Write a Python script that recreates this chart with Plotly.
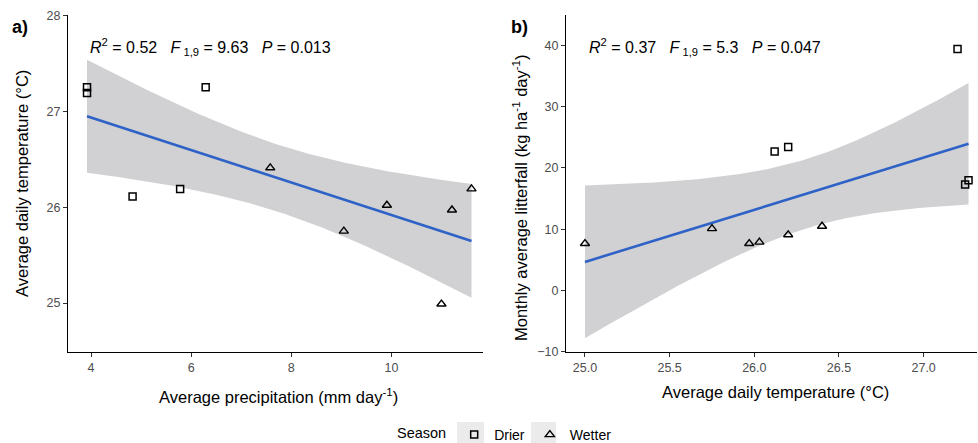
import numpy as np
import plotly.graph_objects as go

# ---------------- data ----------------
# Panel a: precipitation vs temperature
a_drier_precip = [3.92, 3.92, 6.29, 5.78, 4.83]
a_drier_temp = [27.25, 27.19, 27.25, 26.19, 26.11]
a_wetter_precip = [7.58, 9.05, 9.91, 11.00, 11.21, 11.60]
a_wetter_temp = [26.41, 25.75, 26.02, 24.99, 25.97, 26.19]

# Panel b: temperature vs litterfall
b_drier_temp = [27.20, 27.245, 27.265, 26.12, 26.20]
b_drier_litter = [39.4, 17.3, 18.0, 22.7, 23.4]
b_wetter_temp = [25.00, 25.75, 25.97, 26.03, 26.20, 26.40]
b_wetter_litter = [7.67, 10.1, 7.67, 7.9, 9.1, 10.5]

a_xticks = [4, 6, 8, 10]
a_yticks = [25, 26, 27, 28]
b_xticks = [25.0, 25.5, 26.0, 26.5, 27.0]
b_yticks = [-10, 0, 10, 20, 30, 40]

season_names = ["Drier", "Wetter"]
stats_a = "<i>R</i><sup>2</sup> = 0.52   <i>F</i><sub> 1,9</sub> = 9.63   <i>P</i> = 0.013"
stats_b = "<i>R</i><sup>2</sup> = 0.37   <i>F</i><sub> 1,9</sub> = 5.3   <i>P</i> = 0.047"

T975 = 2.262157  # t quantile, df = 9


def lm_band(x, y, n=100):
    x = np.asarray(x, float)
    y = np.asarray(y, float)
    b1, b0 = np.polyfit(x, y, 1)
    xs = np.linspace(x.min(), x.max(), n)
    resid = y - (b0 + b1 * x)
    s = np.sqrt(np.sum(resid ** 2) / (len(x) - 2))
    sxx = np.sum((x - x.mean()) ** 2)
    se = s * np.sqrt(1 / len(x) + (xs - x.mean()) ** 2 / sxx)
    fit = b0 + b1 * xs
    return xs, fit, fit - T975 * se, fit + T975 * se


FONT = "Arial, Liberation Sans, sans-serif"
BAND = "#D1D1D3"
LINE = "#2F62C6"

fig = go.Figure()


def add_panel(xd, yd, xw, yw, xa, ya, show):
    xs, fit, lo, hi = lm_band(list(xd) + list(xw), list(yd) + list(yw))
    fig.add_trace(go.Scatter(
        x=np.concatenate([xs, xs[::-1]]), y=np.concatenate([hi, lo[::-1]]),
        fill="toself", fillcolor=BAND, line=dict(width=0), mode="lines",
        hoverinfo="skip", showlegend=False, xaxis=xa, yaxis=ya))
    fig.add_trace(go.Scatter(
        x=xs, y=fit, mode="lines", line=dict(color=LINE, width=2.6),
        showlegend=False, xaxis=xa, yaxis=ya))
    fig.add_trace(go.Scatter(
        x=xd, y=yd, mode="markers", name=season_names[0], legendgroup="d",
        marker=dict(symbol="square-open", size=7, color="black",
                    line=dict(width=1.5, color="black")),
        showlegend=show, xaxis=xa, yaxis=ya))
    fig.add_trace(go.Scatter(
        x=xw, y=yw, mode="markers", name=season_names[1], legendgroup="w",
        marker=dict(symbol="triangle-up-open", size=8, color="black",
                    line=dict(width=1.4, color="black")),
        showlegend=show, xaxis=xa, yaxis=ya))


add_panel(a_drier_precip, a_drier_temp, a_wetter_precip, a_wetter_temp, "x", "y", True)
add_panel(b_drier_temp, b_drier_litter, b_wetter_temp, b_wetter_litter, "x2", "y2", False)

W, H = 978, 443
ydom = [(H - 352) / H, (H - 15) / H]

axis_common = dict(showline=True, linecolor="black", linewidth=1.2, ticks="outside",
                   ticklen=4, tickwidth=1, tickcolor="#333333", showgrid=False,
                   zeroline=False, tickfont=dict(family=FONT, size=12.5, color="#4D4D4D"))

fig.update_layout(
    width=W, height=H, margin=dict(l=0, r=0, t=0, b=0, autoexpand=False),
    paper_bgcolor="white", plot_bgcolor="white",
    font=dict(family=FONT, color="black"),
    xaxis=dict(domain=[68 / W, 483 / W], range=[3.54, 11.83], tickvals=a_xticks,
               anchor="y", **axis_common),
    yaxis=dict(domain=ydom, range=[24.49, 28.003], tickvals=a_yticks,
               anchor="x", **axis_common),
    xaxis2=dict(domain=[566 / W, 977 / W], range=[24.888, 27.315], tickvals=b_xticks,
                tickformat=".1f", anchor="y2", **axis_common),
    yaxis2=dict(domain=ydom, range=[-10.02, 44.95], tickvals=b_yticks,
                anchor="x2", **axis_common),
    legend=dict(orientation="h", xref="container", yref="container",
                x=395 / W, xanchor="left", y=24 / H, yanchor="top",
                bgcolor="rgba(0,0,0,0)",
                title=dict(text="Season", font=dict(family=FONT, size=14.5, color="black")),
                font=dict(family=FONT, size=14, color="black"), itemwidth=30),
    showlegend=True,
)

# legend key backgrounds
for x0, x1 in [(457, 484), (531, 556)]:
    fig.add_shape(type="rect", xref="paper", yref="paper", x0=x0 / W, x1=x1 / W,
                  y0=-0.01, y1=(H - 422) / H, fillcolor="#EBEBEB", line=dict(width=0),
                  layer="below")

TS = 16.5
ann = []
ann.append(dict(text=stats_a, x=88 / W, y=(H - 47) / H, xanchor="left", yanchor="middle",
                font=dict(family=FONT, size=16, color="black")))
ann.append(dict(text=stats_b, x=587 / W, y=(H - 47) / H, xanchor="left", yanchor="middle",
                font=dict(family=FONT, size=16, color="black")))
ann.append(dict(text="<b>a)</b>", x=10 / W, y=(H - 27) / H, xanchor="left", yanchor="middle",
                font=dict(family=FONT, size=18, color="black")))
ann.append(dict(text="<b>b)</b>", x=509 / W, y=(H - 27) / H, xanchor="left", yanchor="middle",
                font=dict(family=FONT, size=18, color="black")))
ann.append(dict(text="Average precipitation (mm day<sup>-1</sup>)", x=278 / W, y=(H - 396) / H,
                xanchor="center", yanchor="middle", font=dict(family=FONT, size=TS, color="black")))
ann.append(dict(text="Average daily temperature (°C)", x=775 / W, y=(H - 392) / H,
                xanchor="center", yanchor="middle", font=dict(family=FONT, size=TS, color="black")))
ann.append(dict(text="Average daily temperature (°C)", x=22 / W, y=(H - 184) / H, textangle=-90,
                xanchor="center", yanchor="middle", font=dict(family=FONT, size=TS, color="black")))
ann.append(dict(text="Monthly average litterfall (kg ha<sup>-1</sup> day<sup>-1</sup>)", x=520 / W,
                y=(H - 198) / H, textangle=-90,
                xanchor="center", yanchor="middle", font=dict(family=FONT, size=TS, color="black")))
for a in ann:
    a.update(xref="paper", yref="paper", showarrow=False)
fig.update_layout(annotations=ann)

fig.write_html("out.html")
